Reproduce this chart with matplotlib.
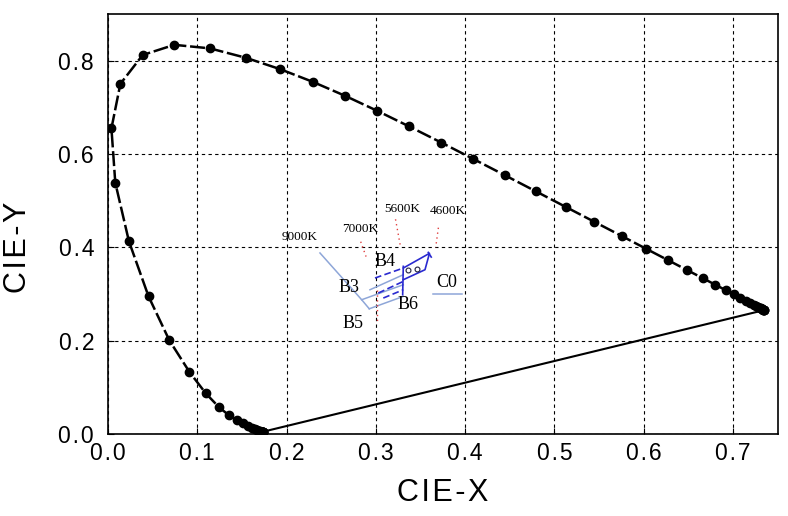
import numpy as np
import matplotlib
matplotlib.use("Agg")
import matplotlib.pyplot as plt

# CIE 1931 spectral locus, 380-700 nm in 5 nm steps
wavelength = list(range(380, 705, 5))
cie_x = [0.1741, 0.1740, 0.1738, 0.1736, 0.1733, 0.1730, 0.1726, 0.1721, 0.1714, 0.1703,
         0.1689, 0.1669, 0.1644, 0.1611, 0.1566, 0.1510, 0.1440, 0.1355, 0.1241, 0.1096,
         0.0913, 0.0687, 0.0454, 0.0235, 0.0082, 0.0039, 0.0139, 0.0389, 0.0743, 0.1142,
         0.1547, 0.1929, 0.2296, 0.2658, 0.3016, 0.3373, 0.3731, 0.4087, 0.4441, 0.4788,
         0.5125, 0.5448, 0.5752, 0.6029, 0.6270, 0.6482, 0.6658, 0.6801, 0.6915, 0.7006,
         0.7079, 0.7140, 0.7190, 0.7230, 0.7260, 0.7283, 0.7300, 0.7311, 0.7320, 0.7327,
         0.7334, 0.7340, 0.7344, 0.7346, 0.7347]
cie_y = [0.0050, 0.0050, 0.0049, 0.0049, 0.0048, 0.0048, 0.0048, 0.0048, 0.0051, 0.0058,
         0.0069, 0.0086, 0.0109, 0.0138, 0.0177, 0.0227, 0.0297, 0.0399, 0.0578, 0.0868,
         0.1327, 0.2007, 0.2950, 0.4127, 0.5384, 0.6548, 0.7502, 0.8120, 0.8338, 0.8262,
         0.8059, 0.7816, 0.7543, 0.7243, 0.6923, 0.6589, 0.6245, 0.5896, 0.5547, 0.5202,
         0.4866, 0.4544, 0.4242, 0.3965, 0.3725, 0.3514, 0.3340, 0.3197, 0.3083, 0.2993,
         0.2920, 0.2859, 0.2809, 0.2770, 0.2740, 0.2717, 0.2700, 0.2689, 0.2680, 0.2673,
         0.2666, 0.2660, 0.2656, 0.2654, 0.2653]

# bin outlines
light_blue_lines = [
    ([0.2374, 0.2841, 0.2926], [0.3878, 0.2876, 0.2682]),
    ([0.2841, 0.3307], [0.2876, 0.3197]),
    ([0.2926, 0.3307], [0.2682, 0.2947]),
    ([0.2934, 0.3307], [0.3090, 0.3412]),
    ([0.3643, 0.3960], [0.3004, 0.3004]),
]
blue_dashed_lines = [
    ([0.2990, 0.3307], [0.3341, 0.3555]),
    ([0.3027, 0.3307], [0.3019, 0.3269]),
    ([0.3083, 0.3307], [0.2912, 0.3090]),
]
blue_solid_lines = [
    ([0.3307, 0.3300], [0.3591, 0.2983]),
    ([0.3307, 0.3600, 0.3550, 0.3307], [0.3555, 0.3870, 0.3519, 0.3305]),
    ([0.3587, 0.3620], [0.3890, 0.3790]),
]
red_dotted_lines = [
    ([0.3220, 0.3275], [0.4600, 0.4020]),
    ([0.3700, 0.3670], [0.4420, 0.4000]),
    ([0.2830, 0.2890], [0.4120, 0.3800]),
    ([0.3010, 0.3010], [0.3090, 0.2380]),
]
ring_x = [0.3363, 0.3457]
ring_y = [0.3519, 0.3534]

cct_labels = ["9000K", "7000K", "5600K", "4600K"]
cct_x = [0.215, 0.282, 0.330, 0.381]
cct_y = [0.423, 0.439, 0.482, 0.477]
bin_labels = ["B4", "B3", "B6", "B5", "C0"]
bin_x = [0.310, 0.270, 0.336, 0.274, 0.379]
bin_y = [0.370, 0.313, 0.277, 0.2375, 0.325]

x_ticks = [0.0, 0.1, 0.2, 0.3, 0.4, 0.5, 0.6, 0.7]
y_ticks = [0.0, 0.2, 0.4, 0.6, 0.8]


def spaced(s):
    return "\u200a".join(s)


fig = plt.figure(figsize=(7.88, 5.16), dpi=100)
ax = fig.add_axes([0.137, 0.159, 0.850, 0.814])

for xs, ys in light_blue_lines:
    ax.plot(xs, ys, color="#8ea6d8", lw=1.1, zorder=3)
for xs, ys in blue_dashed_lines:
    ax.plot(xs, ys, color="#2a2ad0", lw=1.2, ls=(0, (4, 2)), zorder=3)
for xs, ys in blue_solid_lines:
    ax.plot(xs, ys, color="#2a2ad0", lw=1.2, zorder=3)
for xs, ys in red_dotted_lines:
    ax.plot(xs, ys, color="#e04040", lw=1.0, ls=(0, (1, 2.5)), zorder=3)
ax.plot(ring_x, ring_y, ls="none", marker="o", ms=3.5, mfc="white", mec="#202040", mew=0.8, zorder=4)

ax.plot(cie_x, cie_y, color="black", lw=1.8, ls=(0, (6, 1.5)), marker="o", ms=6, zorder=5)
ax.plot([cie_x[-1], cie_x[0]], [cie_y[-1], cie_y[0]], color="black", lw=1.5, zorder=5)

for t, x, y in zip(cct_labels, cct_x, cct_y):
    ax.text(x, y, t, fontsize=9.5, family="Liberation Serif", ha="center", va="center")
for t, x, y in zip(bin_labels, bin_x, bin_y):
    ax.text(x, y, t, fontsize=13, family="Liberation Serif", ha="center", va="center")

ax.set_xlim(0, 0.75)
ax.set_ylim(0, 0.9)
ax.set_xticks(x_ticks)
ax.set_yticks(y_ticks)
ax.set_xticklabels([spaced(f"{v:.1f}") for v in x_ticks])
ax.set_yticklabels([spaced(f"{v:.1f}") for v in y_ticks])
ax.grid(True, color="black", ls=(0, (3, 3)), lw=0.8)
ax.tick_params(direction="in", length=4, labelsize=16.5)
ax.tick_params(axis="x", pad=6)
ax.tick_params(axis="y", pad=10)
for lab in ax.get_xticklabels() + ax.get_yticklabels():
    lab.set_family(["Liberation Sans", "DejaVu Sans"])
for sp in ax.spines.values():
    sp.set_linewidth(1.2)

ax.set_xlabel(spaced("CIE-X"), fontsize=22, family=["Liberation Sans", "DejaVu Sans"])
ax.set_ylabel(spaced("CIE-Y"), fontsize=22, family=["Liberation Sans", "DejaVu Sans"])
ax.xaxis.set_label_coords(0.5, -0.105)
ax.yaxis.set_label_coords(-0.112, 0.445)

fig.savefig("out.png", dpi=100)
